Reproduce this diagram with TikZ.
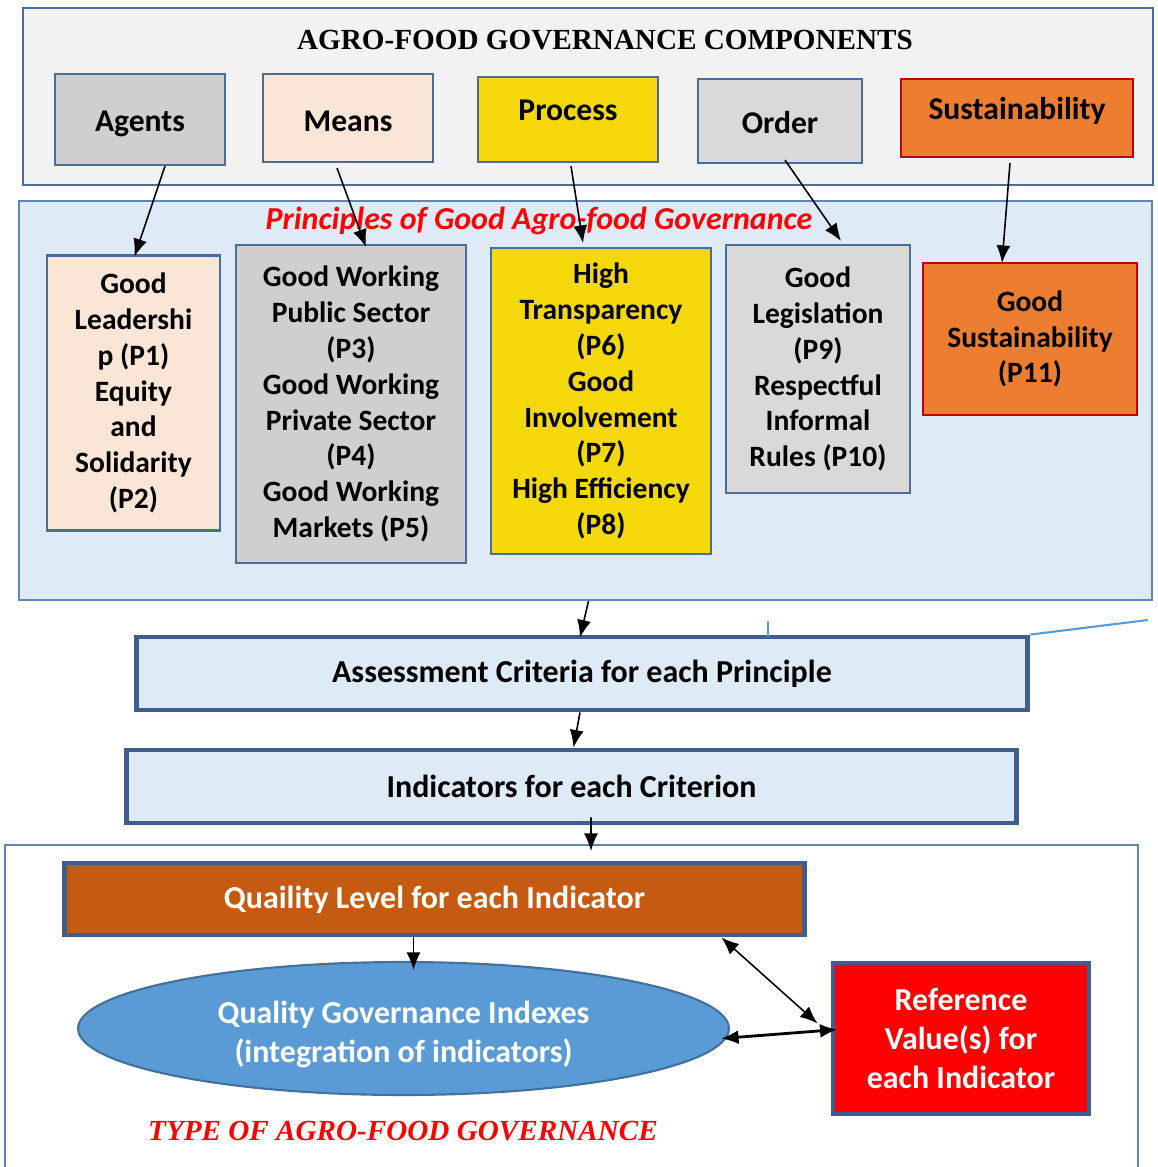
\documentclass[tikz,border=0pt]{standalone}
\usepackage{fontspec}
\setmainfont{Carlito}
\newfontfamily\timesfont{Liberation Serif}
\usetikzlibrary{shapes.geometric,calc,arrows.meta}

\definecolor{frameblue}{HTML}{4A6E9A}
\definecolor{midframe}{HTML}{5F86B5}
\definecolor{darkframe}{HTML}{3E5E8C}
\definecolor{topgray}{HTML}{F2F2F2}
\definecolor{agentgray}{HTML}{D0CECE}
\definecolor{peach}{HTML}{FBE5D6}
\definecolor{procyellow}{HTML}{F5D80A}
\definecolor{ordergray}{HTML}{D9D9D9}
\definecolor{sustorange}{HTML}{ED7D31}
\definecolor{sustred}{HTML}{C00000}
\definecolor{midblue}{HTML}{DEEAF6}
\definecolor{qualbrown}{HTML}{C55A11}
\definecolor{ellblue}{HTML}{5B9BD5}
\definecolor{ellframe}{HTML}{41719C}
\definecolor{strayblue}{HTML}{5B9BD5}

\begin{document}
\begin{tikzpicture}
    [x=0.02cm, y=-0.02cm,
     box/.style={draw=frameblue, line width=1.2pt, inner sep=0pt, align=center},
     comp/.style={box, font=\fontsize{18}{22}\selectfont\bfseries},
     prin/.style={box, font=\fontsize{16.8}{20.4}\selectfont\bfseries},
     stage/.style={draw=darkframe, line width=2.8pt, inner sep=0pt, align=center,
                   font=\fontsize{18.2}{22}\selectfont\bfseries},
     arr/.style={-{Latex[length=10pt,width=8pt]}, line width=0.9pt},
     darr/.style={{Latex[length=10pt,width=8pt]}-{Latex[length=10pt,width=8pt]}, line width=0.9pt}]
    \useasboundingbox (0,0) rectangle (1158,1167);

    % components
    \draw [draw=frameblue, fill=topgray, line width=1.2pt] (23,8) rectangle (1153,185);
    \node (title) at (605,40) [font=\timesfont\bfseries\fontsize{16.6}{20}\selectfont]
        {AGRO-FOOD GOVERNANCE COMPONENTS};
    \node (agents) at (140,119.5) [comp, fill=agentgray, minimum width=3.4cm, minimum height=1.82cm,
        text height=17pt] {Agents};
    \node (means) at (348,118) [comp, fill=peach, minimum width=3.4cm, minimum height=1.76cm,
        text height=15pt] {Means};
    \node (process) at (568,119.5) [comp, fill=procyellow, minimum width=3.6cm, minimum height=1.7cm,
        text depth=0.38cm] {Process};
    \node (order) at (780,121) [comp, fill=ordergray, minimum width=3.28cm, minimum height=1.68cm,
        text height=14pt] {Order};
    \node (sustain) at (1017,118) [comp, fill=sustorange, draw=sustred, minimum width=4.64cm,
        minimum height=1.56cm, text depth=0.4cm] {Sustainability};

    % principles
    \node (mid) at (585.5,400.5) [box, draw=midframe, fill=midblue, minimum width=22.66cm, minimum height=7.98cm] {};
    \node (princ) at (539,221) [text=red, font=\fontsize{18.2}{20}\selectfont\bfseries\itshape]
        {Principles of Good Agro-food Governance};
    \node (p1) at (133.5,393) [prin, fill=peach, minimum width=3.46cm, minimum height=5.5cm]
        {Good\\Leadershi\\p (P1)\\Equity\\and\\Solidarity\\(P2)};
    \node (p3) at (351,404) [prin, fill=agentgray, minimum width=4.6cm, minimum height=6.36cm]
        {Good Working\\Public Sector\\(P3)\\Good Working\\Private Sector\\(P4)\\Good Working\\Markets (P5)};
    \node (p6) at (601,401) [prin, fill=procyellow, minimum width=4.4cm, minimum height=6.12cm]
        {High\\Transparency\\(P6)\\Good\\Involvement\\(P7)\\High Efficiency\\(P8)};
    \node (p9) at (818,369) [prin, fill=ordergray, minimum width=3.68cm, minimum height=4.96cm]
        {Good\\Legislation\\(P9)\\Respectful\\Informal\\Rules (P10)};
    \node (p11) at (1030,339) [prin, fill=sustorange, draw=sustred, minimum width=4.28cm, minimum height=3.04cm]
        {Good\\Sustainability\\(P11)};

    \draw [arr] ($(agents.south)+(25,0)$) -- ($(p1.north)+(1,2)$);
    \draw [arr] ($(means.south)+(-11,5)$) -- ($(p3.north)+(15,3)$);
    \draw [arr] ($(process.south)+(3,3)$) -- ($(p6.north)+(-18,-4)$);
    \draw [arr] ($(order.south)+(5,-4)$) -- ($(p9.north)+(23,-3)$);
    \draw [arr] ($(sustain.south)+(-7,5)$) -- ($(p11.north)+(-28,1)$);

    % criteria and indicators
    \node (crit) at (582,673.5) [stage, fill=midblue, minimum width=17.84cm, minimum height=1.46cm]
        {Assessment Criteria for each Principle};
    \node (ind) at (571.5,786.5) [stage, fill=midblue, minimum width=17.82cm, minimum height=1.46cm]
        {Indicators for each Criterion};
    \draw [strayblue, line width=1pt] (768,621) -- (768,637);
    \draw [strayblue, line width=1.2pt] (crit.north east) -- (1148,620);

    \draw [arr] ($(mid.south)+(3,0)$) -- ($(crit.north)+(-2,3)$);
    \draw [arr] ($(crit.south)+(-2,0)$) -- ($(ind.north)+(2,0)$);

    % type of governance
    \draw [draw=midframe, fill=white, line width=1pt] (5,1170) -- (5,845) -- (1138,845) -- (1138,1170);
    \coordinate (btop) at (591,851);
    \draw [arr] ($(ind.south)+(19.5,-8)$) -- (btop);

    \node (qual) at (434.5,899) [stage, fill=qualbrown, text=white, minimum width=14.82cm, minimum height=1.44cm,
        text height=14pt] {Quaility Level for each Indicator};
    \node (qgi) at (403.5,1028.5) [ellipse, draw=ellframe, fill=ellblue, line width=1.2pt, inner sep=0pt,
        text=white, align=center, minimum width=13.02cm, minimum height=2.66cm, text height=41.5pt,
        font=\fontsize{18.2}{22}\selectfont\bfseries] {Quality Governance Indexes\\(integration of indicators)};
    \node (ref) at (961,1038.5) [stage, fill=red, text=white, minimum width=5.12cm, minimum height=3.02cm]
        {Reference\\Value(s) for\\each Indicator};
    \node (type) at (403,1131) [text=red, font=\timesfont\bfseries\itshape\fontsize{16.6}{20}\selectfont]
        {TYPE OF AGRO-FOOD GOVERNANCE};

    \draw [arr] ($(qual.south)+(-21,0)$) -- ($(qgi.north)+(10,9)$);
    \draw [darr] ($(qual.south east)+(-86,0)$) -- ($(ref.west)+(-13,-15)$);
    \draw [darr, line width=1.6pt] ($(qgi.east)+(-9,10)$) -- ($(ref.west)+(7,-9)$);
\end{tikzpicture}
\end{document}
